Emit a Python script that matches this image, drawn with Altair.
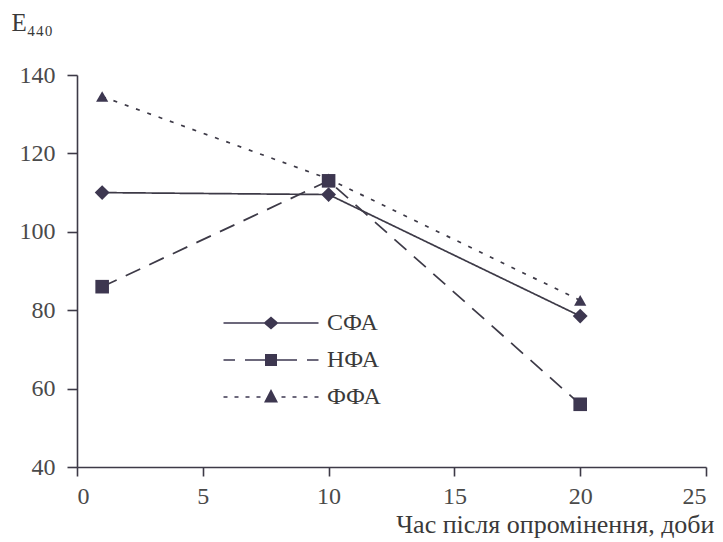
import altair as alt
import pandas as pd

# ---- data ----
days = [1, 10, 20]
series_names = ["СФА", "НФА", "ФФА"]
sfa = [110, 109.5, 78.5]
nfa = [86, 113, 56]
ffa = [134.5, 113.5, 82.5]
x_ticks = [0, 5, 10, 15, 20, 25]
y_ticks = [40, 60, 80, 100, 120, 140]

rows = []
for name, vals in zip(series_names, [sfa, nfa, ffa]):
    for d, v in zip(days, vals):
        rows.append({"series": name, "day": d, "E": v})
df = pd.DataFrame(rows)

LINE = "#3d3a47"
MARK = "#3d3750"
FONT = "Liberation Serif"
TXT = "#3a3a3a"

dash_range = [[1, 0], [16, 10], [4, 8]]
shape_range = ["diamond", "square", "triangle-up"]
size_range = [220, 150, 200]


# legend key glyphs: line segments drawn as thin filled bars plus a marker
def bars(segs, h=0.08):
    return "".join(f"M{a},{-h}H{b}V{h}H{a}Z" for a, b in segs)


legend_paths = [
    bars([(-4.75, 4.75)]) + "M0,-0.65L0.75,0L0,0.65L-0.75,0Z",
    bars([(-4.75, -3.6), (-2.6, 2.6), (3.6, 4.75)]) + "M-0.6,-0.6H0.6V0.6H-0.6Z",
    bars([(-4.75, -4.35), (-3.65, -3.25), (-2.55, -2.15), (-1.45, -1.05),
          (1.05, 1.45), (2.15, 2.55), (3.25, 3.65), (4.35, 4.75)]) + "M0,-0.8L0.7,0.55H-0.7Z",
]

x_enc = alt.X(
    "day:Q",
    scale=alt.Scale(domain=[0, 25], nice=False),
    axis=alt.Axis(
        values=x_ticks, grid=False, title="Час після опромінення, доби",
        titleX=637, titleY=65, titleAlign="right", titleBaseline="alphabetic",
        titleFontSize=26, labelPadding=8, tickSize=9,
    ),
)
y_enc = alt.Y(
    "E:Q",
    scale=alt.Scale(domain=[40, 140], nice=False, zero=False),
    axis=alt.Axis(
        values=y_ticks, grid=False, title="E₄₄₀",
        titleAngle=0, titleX=-66, titleY=-45, titleAlign="left", titleBaseline="alphabetic",
        titleFontSize=25, labelPadding=12, tickSize=10,
    ),
)

base = alt.Chart(df)

lines = base.mark_line(color=LINE, strokeWidth=1.7).encode(
    x=x_enc, y=y_enc,
    detail="series:N",
    strokeDash=alt.StrokeDash("series:N", scale=alt.Scale(domain=series_names, range=dash_range), legend=None),
)

points = base.mark_point(filled=True, color=MARK, opacity=1).encode(
    x=x_enc, y=y_enc,
    shape=alt.Shape("series:N", scale=alt.Scale(domain=series_names, range=shape_range), legend=None),
    size=alt.Size("series:N", scale=alt.Scale(domain=series_names, range=size_range), legend=None),
)

legend_layer = base.mark_point(filled=True, color=MARK, opacity=0, size=400).encode(
    x=x_enc, y=y_enc,
    shape=alt.Shape("series:N", scale=alt.Scale(domain=series_names, range=legend_paths),
                    legend=alt.Legend(
                        title=None, orient="none", legendX=182, legendY=236,
                        labelFont=FONT, labelFontSize=24, labelColor=TXT, labelOffset=44,
                        rowPadding=13, padding=0, symbolSize=400, symbolStrokeWidth=0,
                        symbolFillColor=MARK, symbolOpacity=1,
                    )),
)

chart = alt.layer(lines, points, legend_layer).resolve_scale(
    shape="independent"
).properties(
    width=629, height=392,
    autosize=alt.AutoSizeParams(type="none"),
    padding={"left": 69, "top": 67, "right": 9, "bottom": 75},
    background="white",
).configure_view(stroke=None).configure_axis(
    titleFont=FONT, titleFontSize=24, titleFontWeight="normal", titleColor=TXT,
    labelFont=FONT, labelFontSize=24, labelColor="#4a4a4a",
    tickColor=LINE, domainColor=LINE, domainWidth=1.6, tickWidth=1.6,
)

chart.save("out.html", embed_options={"renderer": "svg", "actions": False})
